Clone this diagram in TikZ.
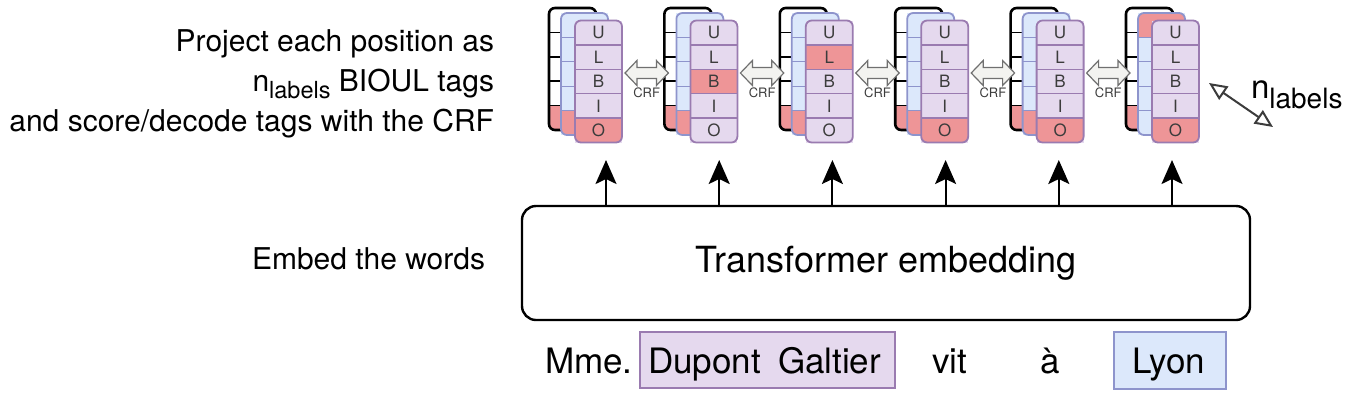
\documentclass[tikz,border=0pt]{standalone}
\usepackage{fontspec}
\setmainfont{TeX Gyre Heros}
\usetikzlibrary{arrows.meta,calc}
\definecolor{purfill}{HTML}{E5D9EE}
\definecolor{purdraw}{HTML}{9A7BB0}
\definecolor{bluefill}{HTML}{DCE8FB}
\definecolor{bluedraw}{HTML}{8E94CC}
\definecolor{hot}{HTML}{EE9597}
\definecolor{crfdraw}{HTML}{707070}
\definecolor{crffill}{HTML}{F3F3F0}
\definecolor{labgray}{HTML}{3C3C3C}
\newcommand\myfs[1]{\fontsize{#1}{#1}\selectfont}
\def\rh{24.4}
\begin{document}
\begin{tikzpicture}[x=1pt,y=-1pt,
  every node/.style={inner sep=0pt,outer sep=0pt},
  layer/.style={minimum width=47pt,minimum height=122pt,anchor=north west},
  backfill/.style={layer,fill=white},
  midfill/.style={layer,fill=bluefill},
  frontfill/.style={layer,fill=purfill},
  backline/.style={draw=black,line width=1.6pt},
  midline/.style={draw=bluedraw,line width=1.3pt},
  frontline/.style={draw=purdraw,line width=1.3pt},
  backborder/.style={draw=black,line width=2.6pt,rounded corners=6pt},
  midborder/.style={draw=bluedraw,line width=1.8pt,rounded corners=6pt},
  frontborder/.style={draw=purdraw,line width=1.8pt,rounded corners=6pt},
  rowlab/.style={font=\myfs{17},text=labgray},
  uparrow/.style={draw=black,line width=2pt,-{Stealth[length=24pt,width=21pt,inset=5pt]}},
  crfarrow/.style={draw=crfdraw,line width=1.2pt,fill=crffill,line join=miter},
  crflab/.style={font=\myfs{13},text=labgray},
  sidetext/.style={font=\myfs{30},anchor=base east},
  wordtext/.style={font=\myfs{35},anchor=base west},
  perbox/.style={draw=purdraw,fill=purfill,line width=1.5pt,anchor=north west},
  locbox/.style={draw=bluedraw,fill=bluefill,line width=1.5pt,anchor=north west},
  embbox/.style={draw=black,line width=2.4pt,rounded corners=14pt,minimum width=728pt,minimum height=114pt,anchor=north west,font=\myfs{36}},
  dimarrow/.style={draw=labgray,line width=2pt,{Triangle[open,length=18pt,width=16pt]}-{Triangle[open,length=18pt,width=16pt]}},
]
\useasboundingbox (0,0) rectangle (1362,408);

% stacks of tag vectors
\foreach \k/\fh/\mh in {1/5/5,2/3/5,3/2/5,4/5/5,5/5/5,6/5/1}{
  \pgfmathsetmacro\bx{549+115.4*(\k-1)}
  % back layer
  \node[backfill] (b\k) at (\bx,8) {};
  \begin{scope}
    \clip[rounded corners=6pt] (b\k.north west) rectangle (b\k.south east);
    \fill[hot] ($(b\k.north west)+(0,4*\rh)$) rectangle (b\k.south east);
  \end{scope}
  \foreach \j in {1,...,4}{\draw[backline] ($(b\k.north west)+(0,\j*\rh)$) -- ++(47,0);}
  \draw[backborder] (b\k.north west) rectangle (b\k.south east);
  % middle layer
  \node[midfill] (m\k) at (\bx+12,13) {};
  \begin{scope}
    \clip[rounded corners=6pt] (m\k.north west) rectangle (m\k.south east);
    \fill[hot] ($(m\k.north west)+(0,{(\mh-1)*\rh})$) rectangle ($(m\k.north east)+(0,{\mh*\rh})$);
  \end{scope}
  \foreach \j in {1,...,4}{\draw[midline] ($(m\k.north west)+(0,\j*\rh)$) -- ++(47,0);}
  \draw[midborder] (m\k.north west) rectangle (m\k.south east);
  % front layer
  \node[frontfill] (f\k) at (\bx+26,20.5) {};
  \begin{scope}
    \clip[rounded corners=6pt] (f\k.north west) rectangle (f\k.south east);
    \fill[hot] ($(f\k.north west)+(0,{(\fh-1)*\rh})$) rectangle ($(f\k.north east)+(0,{\fh*\rh})$);
  \end{scope}
  \foreach \j in {1,...,4}{\draw[frontline] ($(f\k.north west)+(0,\j*\rh)$) -- ++(47,0);}
  \draw[frontborder] (f\k.north west) rectangle (f\k.south east);
  \foreach \j/\l in {1/U,2/L,3/B,4/I,5/O}{
    \node[rowlab] (f\k r\j) at ($(f\k.north)+(0,{(\j-0.5)*\rh})$) {\l};
  }
}

% CRF double arrows
\foreach \k [evaluate=\k as \kk using int(\k+1)] in {1,...,5}{
  \coordinate (ca\k) at ($(f\k.north east)+(3,52.5)$);
  \coordinate (cb\k) at ($(b\kk.north west)+(4,65)$);
  \draw[crfarrow] (ca\k) -- ++(12,-12.5) -- ++(0,7) -- ++(19.4,0) -- ++(0,-7) -- (cb\k)
     -- ++(-12,12.5) -- ++(0,-7) -- ++(-19.4,0) -- ++(0,7) -- cycle;
  \node[crflab] (crf\k) at ($(ca\k)!0.5!(cb\k)+(0,20)$) {CRF};
}

% n_labels dimension arrow
\coordinate (na) at (1209,83);
\coordinate (nb) at (1273,127);
\draw[dimarrow] (na) -- (nb);
\node[anchor=base west,font=\myfs{33}] (nl) at (1251,98) {n\raisebox{-10pt}{\myfs{28}labels}};

% transformer
\node[embbox] (emb) at (522,206) {Transformer embedding};
\foreach \k/\ax in {1/606,2/719.2,3/832.4,4/945.6,5/1058.8,6/1172}{
  \coordinate (a\k) at (\ax,160);
  \draw[uparrow] (emb.north -| a\k) -- (a\k);
}

% words
\node[perbox,minimum width=255pt,minimum height=56pt] (per) at (640,332) {};
\node[locbox,minimum width=112pt,minimum height=57pt] (loc) at (1114,332) {};
\node[wordtext] (w1) at (545,373) {Mme.};
\node[wordtext] (w2) at (648,373) {Dupont};
\node[wordtext] (w3) at (778,373) {Galtier};
\node[wordtext] (w4) at (932,373) {vit};
\node[wordtext] (w5) at (1040,373) {à};
\node[wordtext] (w6) at (1132,373) {Lyon};

% side texts
\node[sidetext] (s1) at (494,51) {Project each position as};
\node[sidetext] (s2) at (494,91) {n\raisebox{-7pt}{\myfs{23.5}labels} BIOUL tags};
\node[sidetext] (s3) at (494,131) {and score/decode tags with the CRF};
\node[sidetext] (s4) at (485,269) {Embed the words};
\end{tikzpicture}
\end{document}
